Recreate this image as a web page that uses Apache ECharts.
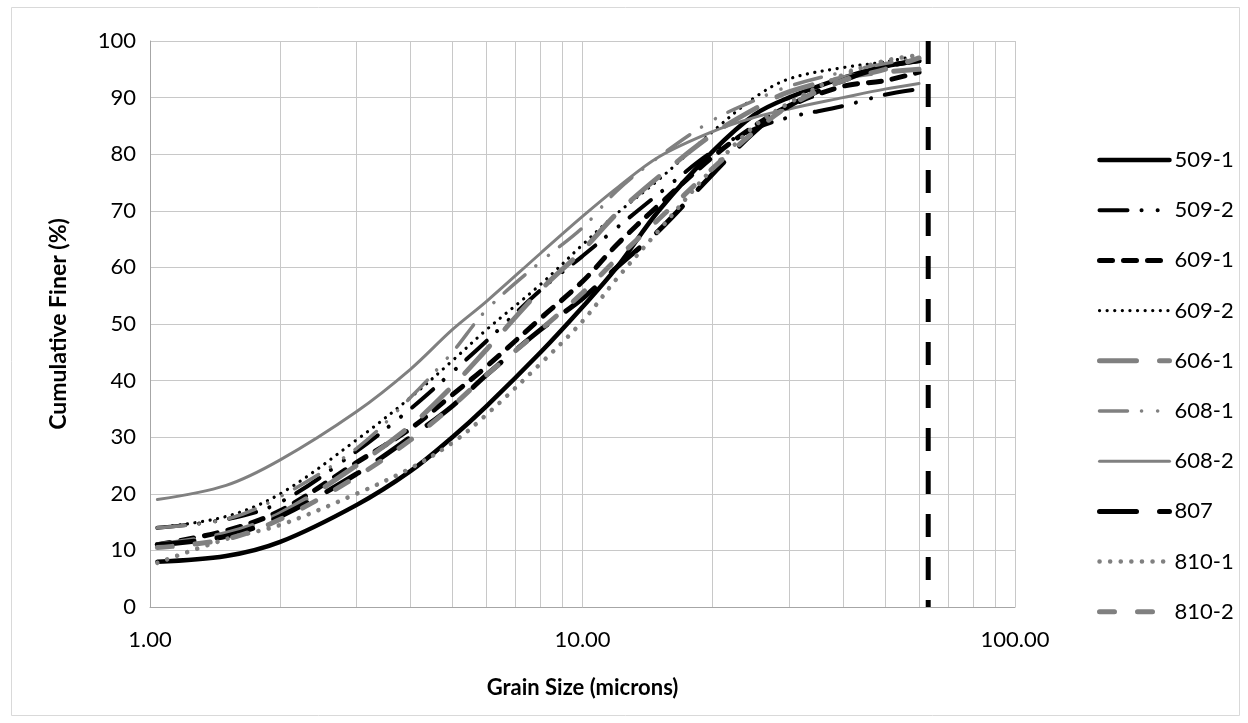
<!DOCTYPE html>
<html>
<head>
<meta charset="utf-8">
<script src="https://cdn.jsdelivr.net/npm/echarts@6/dist/echarts.min.js"></script>
<style>
  html, body { margin: 0; padding: 0; background: #fff; }
  #main { width: 1248px; height: 723px; }
</style>
</head>
<body>
<div id="main"></div>
<script>
// 粒径 (microns)
var grainSize = [1.04, 1.5, 2, 3, 4, 5, 6, 8, 10, 12, 15, 20, 25, 30, 40, 50, 60];
// 各样品累计通过百分比
var s509_1 = [8, 9, 11.5, 18, 24, 30, 35.5, 45, 53, 60, 70, 80.5, 87, 90, 93.5, 95.5, 96.5];
var s509_2 = [14, 15.5, 18.5, 27.5, 35, 41.5, 47, 56, 62, 67, 73, 80.5, 84.5, 86.5, 88.5, 90.5, 91.5];
var s609_1 = [11, 13.5, 17, 25.5, 31.5, 37.5, 42.5, 51, 57.5, 64, 71, 79.5, 85, 88.5, 92, 93, 94.5];
var s609_2 = [14, 16, 20, 29.5, 37, 43.5, 49, 57, 64, 69.5, 75.5, 84, 90, 93.3, 95.3, 96.3, 97.5];
var s606_1 = [11, 13, 16.5, 25, 32, 39, 45.5, 56, 63, 69.5, 76, 83.5, 88, 91, 93.5, 94.5, 95];
var s608_1 = [14, 15.5, 19.5, 28, 37, 45, 52.5, 61, 67, 73.5, 79.5, 86, 89.5, 92, 94.5, 96, 97];
var s608_2 = [19, 21.5, 26, 34.5, 42, 49, 54, 62.5, 69, 74, 79.5, 84, 86.5, 88, 90, 91.5, 92.5];
var s807 = [11, 12.5, 16, 23.5, 30, 35.5, 41, 49, 54.5, 60, 66.5, 76.5, 84, 88.5, 93, 95.5, 96.5];
var s810_1 = [7.8, 12, 14.5, 20, 24.5, 29, 34, 43, 50.5, 58, 66.5, 77.5, 85, 89, 94, 96.5, 97.5];
var s810_2 = [10.5, 12, 15.5, 23, 29.5, 35.5, 41, 49, 55.5, 61.5, 68.5, 77.5, 84, 88.5, 93, 95, 97];
var seriesNames = ['509-1', '509-2', '609-1', '609-2', '606-1', '608-1', '608-2', '807', '810-1', '810-2'];
// 次网格线 & 63微米界线
var minorTicks = [2, 3, 4, 5, 6, 7, 8, 9, 20, 30, 40, 50, 60, 70, 80, 90];
var siltLimit = 63;

var FONT = 'Lato';
var BLACK = '#000000';
var GRAY = '#808080';

function pairs(vals) {
    var out = [];
    for (var i = 0; i < vals.length; i++) {
        out.push([grainSize[i], vals[i]]);
    }
    return out;
}

function mk(name, vals, color, width, type, cap) {
    return {
        name: name,
        type: 'line',
        data: pairs(vals),
        smooth: 0.35,
        symbol: 'none',
        z: 2,
        lineStyle: { color: color, width: width, type: type, cap: cap || 'butt' },
        itemStyle: { color: color }
    };
}

var myChart = echarts.init(document.getElementById('main'));

var series = [
    {
        name: 'grid',
        type: 'line',
        data: [],
        silent: true,
        markLine: {
            z: 1,
            silent: true,
            symbol: 'none',
            label: { show: false },
            lineStyle: { color: '#c8c8c8', width: 1, type: 'solid' },
            data: minorTicks.map(function (v) { return { xAxis: v }; })
        }
    },
    mk('509-1', s509_1, BLACK, 4.5, 'solid', 'round'),
    mk('509-2', s509_2, BLACK, 4, [28, 14, 0.1, 16, 0.1, 14], 'round'),
    mk('609-1', s609_1, BLACK, 5, [13, 11], 'round'),
    mk('609-2', s609_2, BLACK, 3.2, [0.1, 7.5], 'round'),
    mk('606-1', s606_1, GRAY, 5, [37, 23], 'round'),
    mk('608-1', s608_1, GRAY, 3.5, [28, 14, 0.1, 16, 0.1, 14], 'round'),
    mk('608-2', s608_2, GRAY, 3, 'solid', 'round'),
    mk('807', s807, BLACK, 5, [37, 23], 'round'),
    mk('810-1', s810_1, GRAY, 4.5, [0.1, 10.5], 'round'),
    mk('810-2', s810_2, GRAY, 5, [15, 23], 'round'),
    {
        name: 'limit',
        type: 'line',
        data: [[siltLimit, 100], [siltLimit, 0]],
        symbol: 'none',
        z: 3,
        lineStyle: { color: BLACK, width: 5, type: [23, 20] }
    }
];

myChart.setOption({
    animation: false,
    backgroundColor: '#ffffff',
    graphic: [{
        type: 'rect',
        shape: { x: 11.5, y: 7.5, width: 1228, height: 708 },
        style: { fill: 'none', stroke: '#d9d9d9', lineWidth: 1 },
        silent: true
    }],
    grid: { left: 150, top: 41, right: 233, bottom: 116, containLabel: false },
    legend: {
        data: seriesNames,
        orient: 'vertical',
        left: 1092,
        top: 144,
        itemWidth: 70,
        itemHeight: 20,
        itemGap: 28.2,
        itemStyle: { opacity: 0 },
        lineStyle: { width: 'inherit' },
        textStyle: { fontFamily: FONT, fontSize: 22, color: BLACK, lineHeight: 20 }
    },
    xAxis: {
        type: 'log',
        logBase: 10,
        min: 1,
        max: 100,
        name: 'Grain Size (microns)',
        nameLocation: 'middle',
        nameGap: 70,
        nameTextStyle: { fontFamily: FONT, fontSize: 22, fontWeight: 'bold', color: BLACK },
        axisLine: { lineStyle: { color: '#a6a6a6', width: 1 } },
        axisTick: { show: false },
        axisLabel: {
            margin: 22,
            fontFamily: FONT, fontSize: 22, color: BLACK,
            formatter: function (v) { return Number(v).toFixed(2); }
        },
        splitLine: { show: true, lineStyle: { color: '#c8c8c8', width: 1 } }
    },
    yAxis: {
        type: 'value',
        min: 0,
        max: 100,
        interval: 10,
        name: 'Cumulative Finer (%)',
        nameLocation: 'middle',
        nameGap: 80,
        nameRotate: 90,
        nameTextStyle: { fontFamily: FONT, fontSize: 23, fontWeight: 'bold', color: BLACK },
        axisLine: { show: true, lineStyle: { color: '#a6a6a6', width: 1 } },
        axisTick: { show: false },
        axisLabel: { margin: 14, fontFamily: FONT, fontSize: 22, color: BLACK },
        splitLine: { show: true, lineStyle: { color: '#c8c8c8', width: 1 } }
    },
    series: series
});
</script>
</body>
</html>
